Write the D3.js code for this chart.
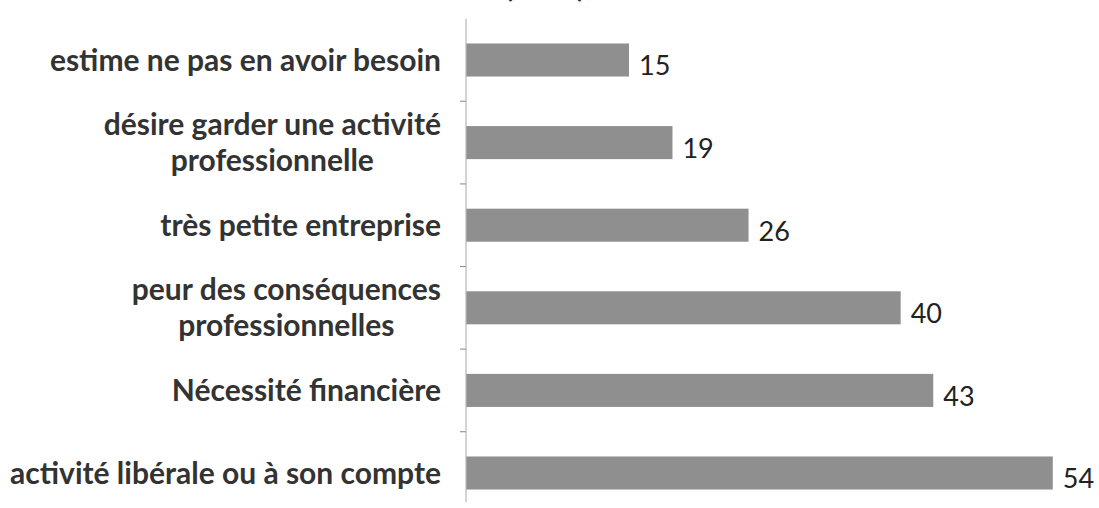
<!DOCTYPE html>
<html>
<head>
<meta charset="utf-8">
<script src="https://cdn.jsdelivr.net/npm/d3@7/dist/d3.min.js"></script>
<style>
  html, body { margin: 0; padding: 0; background: #ffffff; }
  svg { display: block; }
  text { font-family: Lato, "Open Sans", "Noto Sans", sans-serif; }
</style>
</head>
<body>
<svg id="chart" width="1099" height="508"></svg>
<script>
// ---- data ----
const categories = [
  ["estime ne pas en avoir besoin"],
  ["désire garder une activité", "professionnelle"],
  ["très petite entreprise"],
  ["peur des conséquences", "professionnelles"],
  ["Nécessité financière"],
  ["activité libérale ou à son compte"]
];
const values = [15, 19, 26, 40, 43, 54];
const titleText = "(en %)";

// ---- layout ----
const axisX = 466;
const svg = d3.select("#chart");

const keys = categories.map(c => c.join(" "));
const x = d3.scaleLinear().domain([0, 60]).range([axisX, axisX + 652]);
const y = d3.scaleBand().domain(keys).range([18.7, 514.3]).paddingInner(0.6).paddingOuter(0.3);

// partially visible title (cut at the top edge, as in the reference)
svg.append("text")
  .attr("x", 545).attr("y", -3)
  .attr("text-anchor", "middle")
  .attr("font-size", 30).attr("font-weight", 700)
  .attr("fill", "#222")
  .text(titleText);

// bars
svg.selectAll("rect.bar")
  .data(values)
  .join("rect")
  .attr("class", "bar")
  .attr("x", x(0))
  .attr("y", (d, i) => y(keys[i]))
  .attr("width", d => x(d) - x(0))
  .attr("height", y.bandwidth())
  .attr("fill", "#8f8f8f");

// y axis (line + ticks between categories)
const axis = d3.axisLeft(y).tickSize(0).tickFormat("");
const gAxis = svg.append("g").attr("transform", `translate(${axisX},0)`).call(axis);
gAxis.select(".domain").attr("stroke", "#b8b8b8").attr("stroke-width", 1.2)
  .attr("d", `M0,${y.range()[0]}V${y.range()[1] - 12}`);
const step = y.step();
const boundaries = keys.slice(1).map(k => y(k) - (step - y.bandwidth()) / 2);
gAxis.selectAll("line.sep")
  .data(boundaries)
  .join("line")
  .attr("class", "sep")
  .attr("x1", -6).attr("x2", 0)
  .attr("y1", d => d).attr("y2", d => d)
  .attr("stroke", "#999").attr("stroke-width", 1.2);

// category labels
const labelRight = 441;
const lineH = 36;
const fontSize = 30;
categories.forEach((lines, i) => {
  const cy = y(keys[i]) + y.bandwidth() / 2;
  const t = svg.append("text")
    .attr("font-size", fontSize)
    .attr("font-weight", 700)
    .attr("fill", "#333")
    .attr("text-anchor", lines.length > 1 ? "middle" : "end");
  const spans = lines.map((ln, j) => t.append("tspan")
    .attr("y", cy + (j - (lines.length - 1) / 2) * lineH)
    .attr("dy", "0.35em")
    .text(ln));
  if (lines.length > 1) {
    const w = d3.max(spans, s => s.node().getComputedTextLength());
    spans.forEach(s => s.attr("x", labelRight - w / 2));
  } else {
    spans.forEach(s => s.attr("x", labelRight));
  }
});

// value labels
svg.selectAll("text.val")
  .data(values)
  .join("text")
  .attr("class", "val")
  .attr("x", d => x(d) + 10)
  .attr("y", (d, i) => y(keys[i]) + y.bandwidth() / 2 + 6)
  .attr("dy", "0.35em")
  .attr("font-size", 27)
  .attr("font-weight", 400)
  .attr("fill", "#222")
  .text(d => d);
</script>
</body>
</html>
